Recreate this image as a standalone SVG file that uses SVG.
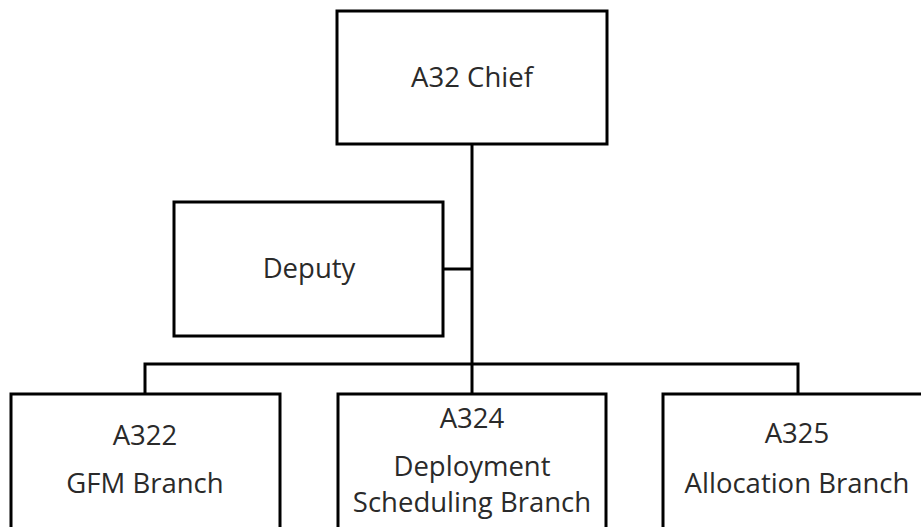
<svg xmlns="http://www.w3.org/2000/svg" width="921" height="527" viewBox="0 0 921 527">
<style>
.box{fill:#fff;stroke:#000;stroke-width:3}
.conn{fill:none;stroke:#000;stroke-width:3}
text{font-family:"Open Sans","Noto Sans",sans-serif;font-size:27.5px;fill:#2a2a2a;text-anchor:middle}
</style>
<rect width="921" height="527" fill="#fff"/>
<g id="connectors">
<path class="conn" d="M472 144V394"/>
<path class="conn" d="M443 269H472"/>
<path class="conn" d="M145 394V364H798V394"/>
</g>
<g id="chief">
<rect class="box" x="337" y="11" width="270" height="133"/>
<text x="472" y="87">A32 Chief</text>
</g>
<g id="deputy">
<rect class="box" x="174" y="202" width="269" height="134"/>
<text x="309" y="278">Deputy</text>
</g>
<g id="a322">
<rect class="box" x="11" y="394" width="269" height="145"/>
<text x="145" y="445">A322</text>
<text x="145" y="493">GFM Branch</text>
</g>
<g id="a324">
<rect class="box" x="338" y="394" width="268" height="145"/>
<text x="472" y="428">A324</text>
<text x="472" y="476">Deployment</text>
<text x="472" y="512">Scheduling Branch</text>
</g>
<g id="a325">
<rect class="box" x="663" y="394" width="280" height="145"/>
<text x="797" y="443">A325</text>
<text x="797" y="493">Allocation Branch</text>
</g>
</svg>
